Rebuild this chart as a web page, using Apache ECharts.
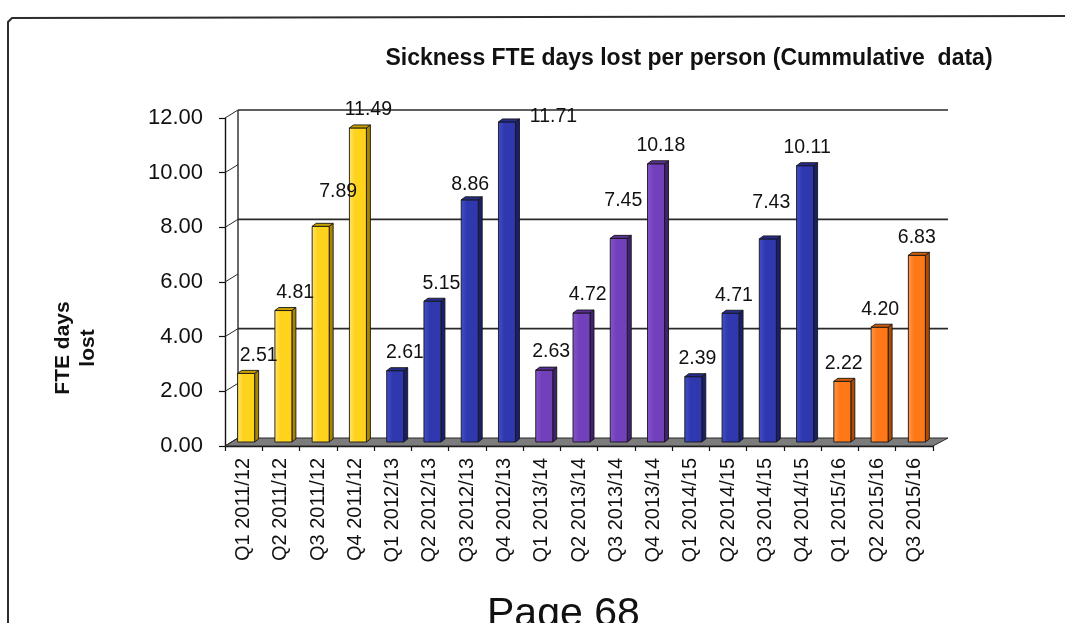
<!DOCTYPE html>
<html>
<head>
<meta charset="utf-8">
<script src="https://cdn.jsdelivr.net/npm/echarts@6/dist/echarts.min.js"></script>
<style>
  html, body { margin: 0; padding: 0; background: #ffffff; }
  #chart { width: 1065px; height: 623px; }
</style>
</head>
<body>
<div id="chart"></div>
<script>
// Quarterly cumulative sickness absence, FTE days lost per person
const categories = [
  'Q1 2011/12', 'Q2 2011/12', 'Q3 2011/12', 'Q4 2011/12',
  'Q1 2012/13', 'Q2 2012/13', 'Q3 2012/13', 'Q4 2012/13',
  'Q1 2013/14', 'Q2 2013/14', 'Q3 2013/14', 'Q4 2013/14',
  'Q1 2014/15', 'Q2 2014/15', 'Q3 2014/15', 'Q4 2014/15',
  'Q1 2015/16', 'Q2 2015/16', 'Q3 2015/16'
];
const daysLost = [
  2.51, 4.81, 7.89, 11.49,
  2.61, 5.15, 8.86, 11.71,
  2.63, 4.72, 7.45, 10.18,
  2.39, 4.71, 7.43, 10.11,
  2.22, 4.20, 6.83
];
const yMin = 0;
const yMax = 12;
const yStep = 2;
const wallGridValues = [4, 8, 12];

const titleText = 'Sickness FTE days lost per person (Cummulative  data)';
const yAxisTitle = 'FTE days\nlost';
const footerText = 'Page 68';

// ---- styling -------------------------------------------------------------
const yearPalette = {
  '2011/12': { front: '#ffd21c', light: '#ffe46a', side: '#a88400', top: '#c9a000' },
  '2012/13': { front: '#3038b0', light: '#4450c8', side: '#1a1f6a', top: '#262c8c' },
  '2013/14': { front: '#7340bc', light: '#8656cc', side: '#40226e', top: '#5a3096' },
  '2014/15': { front: '#3038b0', light: '#4450c8', side: '#1a1f6a', top: '#262c8c' },
  '2015/16': { front: '#ff7818', light: '#ff9a4c', side: '#b04a00', top: '#d05c08' }
};
const FONT = '"Liberation Sans", Arial, Helvetica, sans-serif';
const WALL_DX = 13, WALL_DY = -8;     // depth of back wall / floor
const BAR_DY = -4;                    // bars stand mid-depth
const SIDE_DX = 4, SIDE_DY = -3;      // bar side / top face depth

// nudges for value labels (pixel shifts beside the bar top)
function labelNudge(i) {
  const special = { 2: [15, -35], 6: [-2, -15], 7: [44, -5], 10: [2, -38], 14: [1, -36] };
  if (special[i]) return special[i];
  return [10 - i * 0.7, -18];
}

function yearOf(i) { return categories[i].split(' ')[1]; }

function renderBackdrop(params, api) {
  const cs = params.coordSys;
  const x0 = cs.x, x1 = cs.x + cs.width;
  const yBase = api.coord([0, yMin])[1];
  const yTop = api.coord([0, yMax])[1];
  const children = [];
  // floor
  children.push({
    type: 'polygon',
    shape: { points: [[x0, yBase], [x1, yBase], [x1 + WALL_DX + 2, yBase + WALL_DY], [x0 + WALL_DX, yBase + WALL_DY]] },
    style: { fill: '#7c7c7c', stroke: '#2a2a2a', lineWidth: 1 }
  });
  // left side wall edge
  children.push({
    type: 'line',
    shape: { x1: x0 + WALL_DX, y1: yBase + WALL_DY, x2: x0 + WALL_DX, y2: yTop + WALL_DY },
    style: { stroke: '#2a2a2a', lineWidth: 1.4 }
  });
  // side-wall tick connectors
  for (let v = yMin; v <= yMax; v += yStep) {
    const y = api.coord([0, v])[1];
    children.push({
      type: 'line',
      shape: { x1: x0, y1: y, x2: x0 + WALL_DX, y2: y + WALL_DY },
      style: { stroke: '#2a2a2a', lineWidth: 1 }
    });
  }
  // back-wall gridlines
  wallGridValues.forEach(function (v) {
    const y = api.coord([0, v])[1] + WALL_DY;
    children.push({
      type: 'line',
      shape: { x1: x0 + WALL_DX, y1: y, x2: x1 + WALL_DX + 2, y2: y },
      style: { stroke: '#2a2a2a', lineWidth: 1.6 }
    });
  });
  return { type: 'group', children: children };
}

function renderBar(params, api) {
  const i = api.value(0);
  const v = api.value(1);
  const topPt = api.coord([i, v]);
  const basePt = api.coord([i, 0]);
  const c = topPt[0];
  const xl = c - 6, xr = c + 11;
  const yt = topPt[1] + BAR_DY, yb = basePt[1] + BAR_DY;
  const pal = yearPalette[yearOf(i)];
  const edge = { stroke: '#161616', lineWidth: 0.9 };
  const nudge = labelNudge(i);
  return {
    type: 'group',
    children: [
      {
        type: 'polygon',
        shape: { points: [[xr, yt], [xr + SIDE_DX, yt + SIDE_DY], [xr + SIDE_DX, yb + SIDE_DY], [xr, yb]] },
        style: Object.assign({ fill: pal.side }, edge)
      },
      {
        type: 'rect',
        shape: { x: xl, y: yt, width: xr - xl, height: yb - yt },
        style: Object.assign({
          fill: new echarts.graphic.LinearGradient(0, 0, 1, 0, [
            { offset: 0, color: pal.light },
            { offset: 0.35, color: pal.front },
            { offset: 1, color: pal.front }
          ])
        }, edge)
      },
      {
        type: 'polygon',
        shape: { points: [[xl, yt], [xl + SIDE_DX, yt + SIDE_DY], [xr + SIDE_DX, yt + SIDE_DY], [xr, yt]] },
        style: Object.assign({ fill: pal.top }, edge)
      },
      {
        type: 'text',
        z2: 10,
        style: {
          text: v.toFixed(2),
          x: c + 5 + nudge[0],
          y: yt + nudge[1],
          align: 'center',
          verticalAlign: 'middle',
          font: '19.5px ' + FONT,
          fill: '#111111'
        }
      }
    ]
  };
}

const chart = echarts.init(document.getElementById('chart'), null, { renderer: 'canvas' });

chart.setOption({
  animation: false,
  backgroundColor: '#ffffff',
  title: {
    text: titleText,
    left: 684,
    top: 42,
    textAlign: 'center',
    textStyle: { fontFamily: FONT, fontWeight: 'bold', fontSize: 23, color: '#111111' }
  },
  grid: { left: 225, right: 132, top: 118, bottom: 177 },
  xAxis: {
    type: 'category',
    data: categories,
    axisLine: { show: true, lineStyle: { color: '#111111', width: 1.4 } },
    axisTick: { show: true, length: 5, interval: 0, lineStyle: { color: '#111111', width: 1.2 } },
    axisLabel: {
      interval: 0,
      rotate: 90,
      margin: 12,
      fontFamily: FONT,
      fontSize: 20,
      color: '#111111'
    },
    splitLine: { show: false }
  },
  yAxis: {
    type: 'value',
    min: yMin,
    max: yMax,
    interval: yStep,
    axisLine: { show: true, lineStyle: { color: '#111111', width: 1.4 } },
    axisTick: { show: true, length: 6, lineStyle: { color: '#111111', width: 1.2 } },
    axisLabel: {
      margin: 22,
      fontFamily: FONT,
      fontSize: 22,
      color: '#111111',
      formatter: function (v) { return v.toFixed(2); }
    },
    splitLine: { show: false }
  },
  graphic: [
    {
      type: 'polyline',
      shape: { points: [[8, 623], [8, 22], [12, 18], [1065, 16]] },
      style: { stroke: '#2e2e2e', lineWidth: 2, fill: null }
    },
    {
      type: 'text',
      x: 76,
      y: 348,
      rotation: Math.PI / 2,
      style: {
        text: yAxisTitle,
        font: 'bold 21px ' + FONT,
        lineHeight: 25,
        align: 'center',
        verticalAlign: 'middle',
        fill: '#111111'
      }
    },
    {
      type: 'text',
      left: 487,
      top: 594,
      style: { text: footerText, font: '41px ' + FONT, fill: '#111111' }
    }
  ],
  series: [
    {
      type: 'custom',
      name: 'backdrop',
      z: 1,
      clip: false,
      silent: true,
      data: [[0, 0]],
      renderItem: renderBackdrop
    },
    {
      type: 'custom',
      name: 'FTE days lost',
      z: 3,
      clip: false,
      data: daysLost.map(function (v, i) { return [i, v]; }),
      encode: { x: 0, y: 1 },
      renderItem: renderBar
    }
  ]
});
</script>
</body>
</html>
